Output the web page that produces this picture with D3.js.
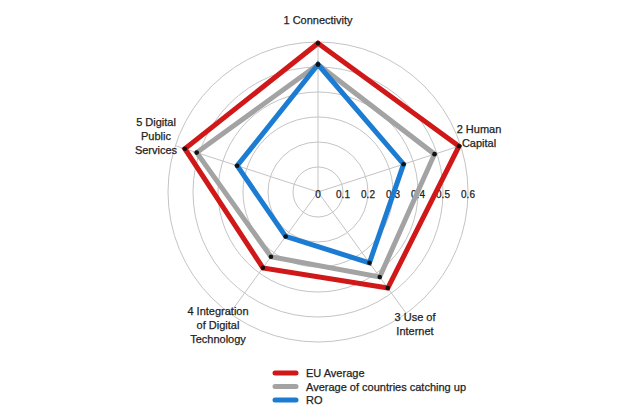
<!DOCTYPE html>
<html>
<head>
<meta charset="utf-8">
<script src="https://cdn.jsdelivr.net/npm/d3@7"></script>
<style>
body { margin: 0; background: #fff; }
text { font-family: "Liberation Sans", Arial, sans-serif; fill: #1e1e1e; stroke: #1e1e1e; stroke-width: 0.25px; }
</style>
</head>
<body>
<div id="chart"></div>
<script>
// data
const axisLabels = [
  ["1 Connectivity"],
  ["2 Human", "Capital"],
  ["3 Use of", "Internet"],
  ["4 Integration", "of Digital", "Technology"],
  ["5 Digital", "Public", "Services"]
];
const seriesNames = ["EU Average", "Average of countries catching up", "RO"];
const euAverage = [0.595, 0.593, 0.475, 0.375, 0.56];
const catchingUp = [0.51, 0.49, 0.42, 0.32, 0.51];
const roValues = [0.51, 0.36, 0.35, 0.22, 0.34];
const ticks = [0, 0.1, 0.2, 0.3, 0.4, 0.5, 0.6];

const colors = ["#d01818", "#a3a3a3", "#1c7cd2"];

const width = 620, height = 413;
const cx = 318, cy = 192;

const svg = d3.select("#chart").append("svg").attr("width", width).attr("height", height);
const g = svg.append("g").attr("transform", `translate(${cx},${cy})`);

const r = d3.scaleLinear().domain([0, 0.6]).range([0, 150]);
const angle = d3.scaleLinear().domain([0, axisLabels.length]).range([0, 2 * Math.PI]);

// grid circles
g.selectAll("circle.grid").data(ticks.slice(1)).enter().append("circle")
  .attr("class", "grid")
  .attr("r", d => r(d))
  .attr("fill", "none")
  .attr("stroke", "#c4c4c4")
  .attr("stroke-width", 1);

// spokes
g.selectAll("line.spoke").data(axisLabels).enter().append("line")
  .attr("x1", 0).attr("y1", 0)
  .attr("x2", (d, i) => r(0.6) * Math.sin(angle(i)))
  .attr("y2", (d, i) => -r(0.6) * Math.cos(angle(i)))
  .attr("stroke", "#c4c4c4")
  .attr("stroke-width", 1);

// tick labels, running to the right
g.selectAll("text.tick").data(ticks).enter().append("text")
  .attr("x", d => r(d))
  .attr("y", 6)
  .attr("text-anchor", "middle")
  .style("font-size", "10px")
  .text(d => d);

// series
const series = [euAverage, catchingUp, roValues];
const line = d3.lineRadial()
  .angle((d, i) => angle(i))
  .radius(d => r(d))
  .curve(d3.curveLinearClosed);

series.forEach((vals, s) => {
  g.append("path")
    .attr("d", line(vals))
    .attr("fill", "none")
    .attr("stroke", colors[s])
    .attr("stroke-width", 5)
    .attr("stroke-linejoin", "miter");
});
series.forEach(vals => {
  g.selectAll(null).data(vals).enter().append("circle")
    .attr("cx", (d, i) => r(d) * Math.sin(angle(i)))
    .attr("cy", (d, i) => -r(d) * Math.cos(angle(i)))
    .attr("r", 2.3)
    .attr("fill", "#111");
});

// axis labels (layout only)
const labelPos = [[0, -168], [161, -59], [97, 129], [-100, 123], [-162, -66]];
const lineGap = 14;
axisLabels.forEach((lines, i) => {
  const t = g.append("text")
    .attr("text-anchor", "middle")
    .style("font-size", "11px");
  lines.forEach((l, k) => {
    t.append("tspan")
      .attr("x", labelPos[i][0])
      .attr("y", labelPos[i][1] + k * lineGap)
      .text(l);
  });
});

// legend
const legend = svg.append("g").attr("transform", "translate(273,373)");
seriesNames.forEach((name, s) => {
  const row = legend.append("g").attr("transform", `translate(0,${s * 13.5})`);
  row.append("line")
    .attr("x1", 2).attr("x2", 23)
    .attr("stroke", colors[s])
    .attr("stroke-width", 5)
    .attr("stroke-linecap", "round");
  row.append("text")
    .attr("x", 33).attr("y", 4)
    .style("font-size", "11px")
    .text(name);
});
</script>
</body>
</html>
